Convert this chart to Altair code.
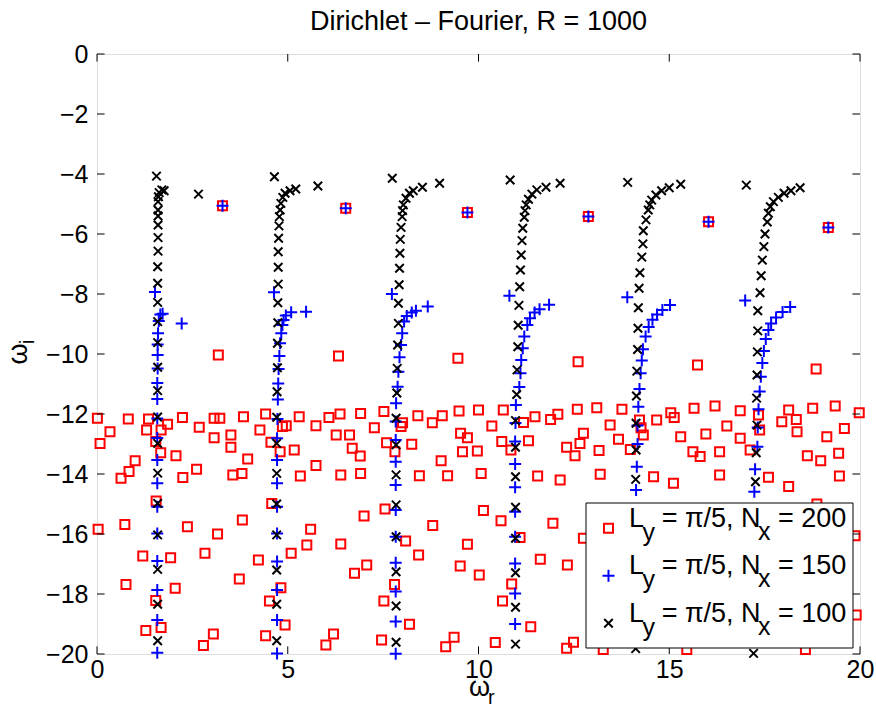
import altair as alt
import pandas as pd

FONT = "Liberation Sans"

# ---------------- data ----------------
# L_y = pi/5, N_x = 200  (red squares)
red_isolated = [(3.29, -5.06), (6.52, -5.14), (9.71, -5.28), (12.88, -5.42), (16.03, -5.59), (19.17, -5.78),
                (3.18, -10.03), (6.33, -10.07), (9.46, -10.14), (12.61, -10.26), (15.74, -10.37), (18.85, -10.5)]
red_left = [(0.01, -12.14), (0.82, -12.17), (1.35, -12.17), (1.85, -12.34), (2.24, -12.12), (2.68, -12.44),
            (3.07, -12.14), (3.22, -12.14), (3.84, -12.09), (4.42, -12.0), (4.86, -12.42), (4.96, -12.39),
            (5.30, -12.09), (5.74, -12.39), (6.08, -12.12), (6.37, -12.0), (6.91, -11.98), (0.34, -12.59),
            (1.30, -12.53), (1.68, -12.53), (1.54, -12.92), (0.08, -12.98), (3.07, -12.79), (3.51, -12.7),
            (3.51, -13.11), (4.27, -12.53), (4.56, -12.94), (4.80, -13.26), (5.17, -13.2), (6.27, -12.7),
            (6.62, -12.7), (6.69, -13.14), (6.90, -13.4), (7.27, -12.46), (1.67, -13.29), (2.07, -13.39),
            (1.00, -13.56), (0.84, -13.92), (0.63, -14.14), (2.61, -13.84), (2.25, -14.12), (3.56, -14.03),
            (3.80, -13.98), (3.95, -13.5), (5.33, -14.07), (5.74, -13.72), (6.39, -14.03), (6.91, -13.98),
            (1.55, -14.9), (4.58, -14.98), (0.03, -15.84), (0.73, -15.68), (2.37, -15.76), (3.16, -16.0),
            (3.81, -15.53), (5.60, -15.84), (7.00, -15.4), (1.20, -16.73), (1.93, -16.79), (2.83, -16.64),
            (4.23, -16.87), (5.09, -16.64), (5.50, -16.37), (6.39, -16.33), (6.75, -17.31), (7.07, -17.03),
            (0.76, -17.68), (2.05, -17.81), (3.73, -17.5), (4.82, -17.79), (1.54, -18.22), (4.52, -18.23),
            (1.28, -19.22), (1.68, -19.12), (2.79, -19.72), (3.05, -19.33), (4.42, -19.39), (4.93, -19.03),
            (6.00, -19.7), (6.20, -19.33)]
red_middle = [(7.52, -11.92), (8.01, -12.29), (7.97, -12.42), (8.41, -12.06), (8.79, -12.29), (9.05, -12.06),
              (9.49, -11.9), (10.0, -11.87), (10.35, -12.4), (10.65, -11.87), (11.18, -12.28), (11.48, -12.09),
              (11.89, -12.18), (12.08, -12.01), (7.59, -12.96), (7.81, -13.26), (8.25, -13.01), (9.53, -12.64),
              (9.71, -12.79), (9.58, -13.26), (9.97, -13.23), (9.02, -13.56), (10.61, -12.92), (10.85, -13.2),
              (11.31, -12.89), (8.45, -14.06), (9.19, -14.06), (10.07, -13.98), (11.55, -14.07), (7.55, -15.17),
              (10.13, -15.22), (10.59, -15.56), (11.95, -15.64), (8.80, -15.72), (8.09, -16.23), (8.43, -16.7),
              (9.71, -16.34), (9.52, -17.07), (10.02, -17.37), (11.09, -16.12), (11.62, -16.84), (7.80, -17.68),
              (7.52, -18.23), (10.87, -17.67), (10.63, -18.23), (8.19, -19.01), (11.37, -19.09), (7.46, -19.53),
              (9.14, -19.76), (9.36, -19.44), (10.44, -19.62)]
red_right = [(12.59, -11.84), (13.10, -11.79), (13.76, -11.84), (13.45, -12.37), (12.75, -12.64), (12.66, -12.98),
             (12.31, -13.11), (12.53, -13.39), (13.16, -13.22), (13.67, -12.84), (13.98, -13.18), (14.22, -12.2),
             (14.26, -12.46), (14.32, -12.7), (14.67, -12.2), (15.04, -11.96), (15.13, -12.12), (15.65, -11.81),
             (16.20, -11.73), (16.86, -11.89), (16.51, -12.4), (15.96, -12.67), (15.30, -12.76), (15.62, -13.26),
             (15.81, -13.42), (16.32, -13.26), (16.86, -12.81), (17.34, -12.03), (17.37, -12.53), (17.95, -12.26),
             (18.13, -11.87), (18.33, -12.18), (18.35, -12.59), (18.76, -11.81), (19.35, -11.73), (19.59, -12.48),
             (19.13, -12.76), (18.62, -13.39), (18.97, -13.56), (19.44, -13.31), (19.98, -11.96), (13.19, -14.01),
             (12.14, -14.2), (14.59, -14.09), (15.11, -14.31), (16.32, -14.03), (17.60, -14.11), (18.13, -14.42),
             (19.46, -14.07), (12.75, -16.14), (12.33, -17.03), (19.87, -16.06), (19.90, -18.7), (12.31, -19.81),
             (12.49, -19.61), (18.87, -15.0), (17.12, -13.2), (13.27, -19.85), (15.46, -19.85), (18.57, -19.85)]

# L_y = pi/5, N_x = 150  (blue plus signs)
blue_isolated = [(3.29, -5.06), (6.52, -5.14), (9.71, -5.28), (12.88, -5.42), (16.03, -5.59), (19.17, -5.78)]
blue_b1 = [(1.52, -7.93), (1.66, -8.68), (1.72, -8.66), (2.22, -8.98), (1.62, -8.9), (1.60, -9.31), (1.59, -9.68),
           (1.59, -10.03), (1.59, -10.48), (1.58, -10.97), (1.58, -11.5), (1.58, -12.15), (1.58, -12.8),
           (1.58, -13.53), (1.58, -14.31), (1.58, -15.09), (1.58, -15.98), (1.58, -16.9), (1.58, -17.87),
           (1.58, -18.87), (1.58, -19.96)]
blue_b2 = [(4.64, -7.94), (5.48, -8.59), (5.09, -8.61), (4.95, -8.72), (4.89, -8.87), (4.86, -9.03), (4.83, -9.31),
           (4.80, -9.64), (4.78, -10.07), (4.76, -10.5), (4.75, -10.98), (4.74, -11.52), (4.73, -12.17),
           (4.72, -12.81), (4.72, -13.53), (4.72, -14.31), (4.72, -15.09), (4.72, -15.98), (4.72, -16.92),
           (4.72, -17.87), (4.72, -18.87), (4.72, -19.98)]
blue_b3 = [(7.73, -8.0), (8.67, -8.42), (8.36, -8.56), (8.25, -8.62), (8.12, -8.73), (8.05, -8.92), (8.00, -9.31),
           (7.97, -9.7), (7.93, -10.11), (7.90, -10.59), (7.88, -11.09), (7.84, -11.64), (7.83, -12.25),
           (7.83, -12.87), (7.83, -13.59), (7.83, -14.37), (7.83, -15.2), (7.83, -16.09), (7.83, -16.96),
           (7.83, -17.92), (7.83, -18.92), (7.83, -19.99)]
blue_b4 = [(10.81, -8.06), (11.85, -8.36), (11.60, -8.51), (11.47, -8.62), (11.35, -8.81), (11.28, -9.03),
           (11.20, -9.42), (11.16, -9.81), (11.12, -10.2), (11.10, -10.64), (11.07, -11.1), (10.98, -11.7),
           (10.97, -12.3), (10.96, -12.92), (10.96, -13.67), (10.96, -14.44), (10.96, -15.26), (10.96, -16.09),
           (10.96, -16.98), (10.96, -17.98), (10.96, -19.0)]
blue_b5 = [(13.90, -8.11), (15.02, -8.37), (14.82, -8.53), (14.68, -8.68), (14.56, -8.86), (14.46, -9.1),
           (14.38, -9.42), (14.31, -9.84), (14.28, -10.22), (14.25, -10.64), (14.22, -11.17), (14.19, -11.76),
           (14.17, -12.38), (14.17, -13.0), (14.15, -13.76), (14.13, -14.53)]
blue_b6 = [(16.99, -8.22), (18.17, -8.43), (17.97, -8.6), (17.80, -8.78), (17.67, -8.98), (17.60, -9.2),
           (17.53, -9.5), (17.48, -9.9), (17.44, -10.3), (17.40, -10.76), (17.37, -11.25), (17.34, -11.84),
           (17.32, -12.45), (17.31, -13.09), (17.25, -13.84), (17.23, -14.59)]

# L_y = pi/5, N_x = 100  (black crosses)
black_b1 = [(1.56, -4.07), (1.70, -4.53), (1.76, -4.56), (1.63, -4.62), (2.66, -4.67), (1.61, -4.76), (1.60, -4.92),
            (1.60, -5.2), (1.60, -5.4), (1.60, -5.7), (1.60, -6.12), (1.60, -6.57), (1.59, -7.09), (1.59, -7.64),
            (1.59, -8.28), (1.59, -8.92), (1.59, -9.62), (1.59, -10.44), (1.59, -11.22), (1.59, -12.1),
            (1.59, -12.98), (1.59, -13.97), (1.59, -14.98), (1.59, -16.03), (1.59, -17.18), (1.59, -18.34),
            (1.59, -19.56)]
black_b2 = [(4.65, -4.09), (5.79, -4.4), (5.21, -4.5), (5.06, -4.56), (4.93, -4.64), (4.87, -4.78), (4.82, -4.98),
            (4.80, -5.2), (4.78, -5.42), (4.77, -5.73), (4.76, -6.14), (4.75, -6.59), (4.75, -7.11), (4.75, -7.67),
            (4.74, -8.29), (4.74, -8.96), (4.73, -9.64), (4.73, -10.46), (4.72, -11.26), (4.71, -12.11),
            (4.71, -12.98), (4.71, -13.98), (4.71, -15.0), (4.71, -16.03), (4.71, -17.2), (4.71, -18.34),
            (4.71, -19.56)]
black_b3 = [(7.74, -4.14), (8.98, -4.31), (8.53, -4.44), (8.29, -4.56), (8.19, -4.64), (8.10, -4.81), (8.03, -5.03),
            (8.01, -5.22), (8.00, -5.42), (7.97, -5.78), (7.95, -6.18), (7.94, -6.64), (7.93, -7.14), (7.92, -7.69),
            (7.90, -8.31), (7.90, -8.98), (7.88, -9.7), (7.87, -10.48), (7.86, -11.3), (7.84, -12.14),
            (7.84, -13.03), (7.84, -14.03), (7.84, -15.03), (7.84, -16.09), (7.84, -17.26), (7.84, -18.4),
            (7.84, -19.61)]
black_b4 = [(10.83, -4.2), (12.14, -4.31), (11.77, -4.44), (11.53, -4.53), (11.40, -4.67), (11.31, -4.84),
            (11.25, -5.03), (11.22, -5.22), (11.20, -5.44), (11.16, -5.81), (11.14, -6.22), (11.12, -6.7),
            (11.10, -7.2), (11.08, -7.76), (11.06, -8.38), (11.04, -9.04), (11.03, -9.76), (11.01, -10.53),
            (11.00, -11.35), (10.97, -12.22), (10.97, -13.11), (10.97, -14.09), (10.97, -15.11), (10.97, -16.14),
            (10.97, -17.29), (10.97, -18.44), (10.97, -19.67)]
black_b5 = [(13.91, -4.28), (15.30, -4.34), (15.00, -4.46), (14.80, -4.56), (14.65, -4.7), (14.54, -4.87),
            (14.49, -5.03), (14.45, -5.2), (14.39, -5.53), (14.32, -5.89), (14.31, -6.33), (14.28, -6.77),
            (14.23, -7.29), (14.21, -7.81), (14.19, -8.46), (14.18, -9.14), (14.17, -9.85), (14.15, -10.57),
            (14.14, -11.4), (14.13, -12.31), (14.13, -13.2), (14.12, -14.18), (14.12, -19.82)]
black_b6 = [(17.02, -4.37), (18.43, -4.46), (18.19, -4.56), (18.01, -4.64), (17.86, -4.78), (17.73, -4.92),
            (17.65, -5.09), (17.60, -5.31), (17.57, -5.6), (17.51, -6.0), (17.48, -6.42), (17.44, -6.87),
            (17.41, -7.39), (17.38, -7.96), (17.32, -8.56), (17.32, -9.23), (17.31, -9.93), (17.30, -10.7),
            (17.29, -11.47), (17.30, -12.37), (17.28, -13.29), (17.26, -14.26), (17.21, -19.98)]

x_ticks = [0, 5, 10, 15, 20]
y_ticks = [0, -2, -4, -6, -8, -10, -12, -14, -16, -18, -20]
legend_numbers = ["200", "150", "100"]
title_text = "Dirichlet \u2013 Fourier, R = 1000"

# ---------------- build tables ----------------
def table(*groups):
    pts = [p for g in groups for p in g]
    return pd.DataFrame({"wr": [p[0] for p in pts], "wi": [p[1] for p in pts]})

red_df = table(red_isolated, red_left, red_middle, red_right)
blue_df = table(blue_isolated, blue_b1, blue_b2, blue_b3, blue_b4, blue_b5, blue_b6)
black_df = table(black_b1, black_b2, black_b3, black_b4, black_b5, black_b6)

W, H = 763, 600
PLUS = "M-1,0L1,0M0,-1L0,1"
CROSS = "M-1,-1L1,1M-1,1L1,-1"

x_axis = alt.Axis(values=x_ticks, title=None, ticks=False, domain=False, grid=False,
                  labelFontSize=25, labelFont=FONT, labelColor="black", labelPadding=3,
                  labelFlush=False, labelOverlap=False)
y_axis = alt.Axis(values=y_ticks, title=None, ticks=False, domain=False, grid=False,
                  labelFontSize=25, labelFont=FONT, labelColor="black", labelPadding=9,
                  labelFlush=False, labelOverlap=False, labelBaseline="middle")

X = alt.X("wr:Q", scale=alt.Scale(domain=[0, 20], nice=False, zero=False), axis=x_axis)
Y = alt.Y("wi:Q", scale=alt.Scale(domain=[-20, 0], nice=False, zero=False), axis=y_axis)

red = alt.Chart(red_df).mark_point(shape="square", filled=False, color="#ff0000", size=81,
                                   strokeWidth=2, opacity=1).encode(x=X, y=Y)
blue = alt.Chart(blue_df).mark_point(shape=PLUS, filled=False, color="#0000ff", size=144,
                                     strokeWidth=2, opacity=1).encode(x=X, y=Y)
black = alt.Chart(black_df).mark_point(shape=CROSS, filled=False, color="#000000", size=72,
                                       strokeWidth=2, opacity=1).encode(x=X, y=Y)

# inward ticks on all four sides (MATLAB box style)
xt = pd.DataFrame({"wr": x_ticks})
yt = pd.DataFrame({"wi": y_ticks})
TL = 7.6
tick_b = alt.Chart(xt).mark_rule(color="black", strokeWidth=1).encode(x=X, y=alt.value(H), y2=alt.value(H - TL))
tick_t = alt.Chart(xt).mark_rule(color="black", strokeWidth=1).encode(x=X, y=alt.value(0), y2=alt.value(TL))
tick_l = alt.Chart(yt).mark_rule(color="black", strokeWidth=1).encode(y=Y, x=alt.value(0), x2=alt.value(TL))
tick_r = alt.Chart(yt).mark_rule(color="black", strokeWidth=1).encode(y=Y, x=alt.value(W), x2=alt.value(W - TL))

one = pd.DataFrame({"k": [0]})

def txt(s, x, y, size, align="left", angle=0):
    return alt.Chart(one).mark_text(text=s, align=align, baseline="alphabetic", fontSize=size, font=FONT,
                                    color="black", angle=angle).encode(x=alt.value(x), y=alt.value(y))

# axis titles with real subscripts
axis_titles = [txt("\u03c9", 372, 642, 27),
               txt("r", 391, 650, 20),
               txt("\u03c9", -70, 300, 27, align="center", angle=270),
               txt("i", -63, 290, 20, angle=270)]

# legend box (drawn over the data, as in the original)
box = alt.Chart(one).mark_rect(fill="white", stroke="black", strokeWidth=1).encode(
    x=alt.value(489), x2=alt.value(756), y=alt.value(449), y2=alt.value(594))

def sym(shape, color, size, row):
    return alt.Chart(one).mark_point(shape=shape, filled=False, color=color, size=size, strokeWidth=2,
                                     opacity=1).encode(x=alt.value(511.5), y=alt.value(474.3 + 47.5 * row))

legend_layers = [box,
                 sym("square", "#ff0000", 81, 0),
                 sym(PLUS, "#0000ff", 144, 1),
                 sym(CROSS, "#000000", 72, 2)]
for i, n in enumerate(legend_numbers):
    base = 472.7 + 47.5 * i
    legend_layers += [txt("L", 532, base, 27),
                      txt("y", 545.5, base + 14, 25),
                      txt("= \u03c0/5, N", 564.7, base, 27),
                      txt("x", 661, base + 13, 25),
                      txt("= " + n, 681, base, 27)]

chart = alt.layer(red, blue, black, tick_b, tick_t, tick_l, tick_r, *axis_titles, *legend_layers).properties(
    width=W, height=H,
    title=alt.TitleParams(title_text, fontSize=27, font=FONT, fontWeight="normal", color="black",
                          anchor="middle", offset=6),
    autosize=alt.AutoSizeParams(type="none"),
    padding={"left": 97, "top": 54, "right": 16, "bottom": 57},
).configure_view(stroke="black", strokeWidth=1).configure(background="white")

chart.save("out.html", embed_options={"renderer": "svg", "actions": False})
